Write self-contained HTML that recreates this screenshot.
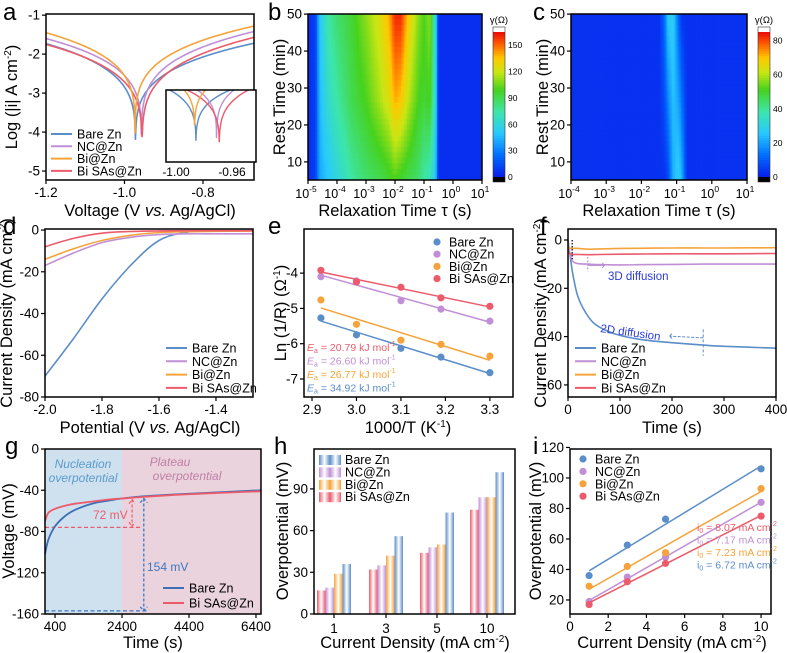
<!DOCTYPE html>
<html><head><meta charset="utf-8"><style>
html,body{margin:0;padding:0;background:#fff;}
svg{display:block;font-family:"Liberation Sans",Arial,sans-serif;}
</style></head><body>
<svg id="fig" width="787" height="653" viewBox="0 0 787 653" xmlns="http://www.w3.org/2000/svg"></svg>
<script>
// ===== Data =====
const seriesNames=["Bare Zn","NC@Zn","Bi@Zn","Bi SAs@Zn"];
const seriesColors=["#5b8ec9","#c08fd6","#f5a33a","#ec5b6b"];
// (a) Tafel: corrosion potential, log i at -1.2 V and -0.67 V
const aEcorr=[-0.972,-0.957,-0.973,-0.955];
const aLeft=[-1.73,-1.60,-1.45,-1.75];
const aRight=[-1.72,-1.42,-1.28,-1.57];
const aMin=[-4.75,-4.6,-4.4,-4.85];
// (b)(c) DRT heatmaps
const bLogTau=[-5,-4.75,-4.6,-4.3,-4,-3.5,-3,-2.5,-2.2,-2,-1.8,-1.5,-1.2,-1,-0.8,-0.6,-0.5,0,1];
const bRest=[5,27,50];
const bGamma=[[5,10,40,50,60,75,85,90,95,100,95,90,85,75,70,50,5,5,5],
[5,10,45,65,75,90,100,115,125,140,135,115,100,95,100,60,5,5,5],
[5,10,50,75,85,95,110,125,140,160,160,130,110,100,110,60,5,5,5]];
const cLogTau=[-4,-1.5,-1.35,-1.25,-1.1,-0.95,-0.85,-0.7,1];
const cRest=[5,50];
const cGammaBottom=[3,3,3,6,22,28,22,3,3];
const cGammaTop=[3,3,12,26,28,12,3,3,3];
// (d) LSV
const dV=[-2.0,-1.9,-1.8,-1.7,-1.6,-1.5,-1.4,-1.27];
const dI=[[-70,-52,-33,-17,-5,-1,-0.5,-0.3],[-17,-11,-6,-3.5,-2.2,-1.8,-1.8,-1.8],[-14,-9,-5,-2.5,-1.2,-0.8,-0.6,-0.5],[-8,-4,-1.5,-0.7,-0.4,-0.3,-0.3,-0.3]];
// (e) Arrhenius
const eX=[2.92,3.0,3.1,3.19,3.3];
const eY=[[-5.27,-5.75,-6.13,-6.38,-6.82],[-4.1,-4.22,-4.78,-5.02,-5.36],[-4.76,-5.45,-5.9,-6.02,-6.35],[-3.92,-4.25,-4.4,-4.7,-4.94]];
const eEa=["34.92","26.60","26.77","20.79"];
// (f) CA
const fT=[0,5,10,20,40,60,100,150,200,260,300,400];
const fI=[[0,-8,-15,-24,-32,-36,-39.5,-41.5,-42.5,-43.5,-44,-44.8],[0,-7,-9,-9.8,-10,-10.2,-10.3,-10.2,-10.1,-10,-10,-10],[-3,-3.5,-3.5,-3.5,-3.8,-3.7,-3.5,-3.4,-3.3,-3.3,-3.3,-3.2],[-5,-5.8,-6,-6,-6.1,-6,-5.9,-5.8,-5.7,-5.7,-5.7,-5.6]];
// (g) nucleation
const gT=[100,200,400,700,1000,1500,2000,2400,3000,4000,5000,6550];
const gBare=[-102,-88,-75,-65,-59,-53,-50,-48,-46,-44,-42.5,-40];
const gSAs=[-70,-62,-58,-55,-53,-51,-49,-48,-46.5,-44.5,-43,-41];
// (h) bars
const hCats=["1","3","5","10"];
const hVals=[[36,56,73,102],[19,35,48,84],[29,42,50,84],[17,32,44,75]];
// (i)
const iX=[1,3,5,10];
const iY=[[36,56,73,106],[19,35,48,84],[29,42,51,93],[17,32,44,75]];
const iI0=["6.72","7.17","7.23","8.07"];

// ===== Helpers =====
const NS="http://www.w3.org/2000/svg";
const fig=document.getElementById('fig');
const TF=16.5, TK=13.5;
function mk(tag,attrs,parent,text){const e=document.createElementNS(NS,tag);for(const k in attrs)e.setAttribute(k,attrs[k]);if(text!==undefined)e.textContent=text;(parent||fig).appendChild(e);return e;}
function axes(x0,x1,y0,y1,xmin,xmax,ymin,ymax){
 return {x0,x1,y0,y1,
  X:v=>x0+(v-xmin)/(xmax-xmin)*(x1-x0),
  Y:v=>y1-(v-ymin)/(ymax-ymin)*(y1-y0)};
}
function smooth(pts){let d="M"+pts[0][0].toFixed(1)+","+pts[0][1].toFixed(1);
 for(let i=0;i<pts.length-1;i++){const p0=pts[Math.max(0,i-1)],p1=pts[i],p2=pts[i+1],p3=pts[Math.min(pts.length-1,i+2)];
  const c1=[p1[0]+(p2[0]-p0[0])/6,p1[1]+(p2[1]-p0[1])/6],c2=[p2[0]-(p3[0]-p1[0])/6,p2[1]-(p3[1]-p1[1])/6];
  d+=`C${c1[0].toFixed(1)},${c1[1].toFixed(1)} ${c2[0].toFixed(1)},${c2[1].toFixed(1)} ${p2[0].toFixed(1)},${p2[1].toFixed(1)}`;}
 return d;}
function frame(A,name){const r=mk('rect',{x:A.x0,y:A.y0,width:A.x1-A.x0,height:A.y1-A.y0,fill:'none',stroke:'#000','stroke-width':1.5});
 }
function xticks(A,vals,labels,name){const g=mk('g',{});
 vals.forEach((v,i)=>{const x=A.X(v);mk('line',{x1:x,x2:x,y1:A.y1,y2:A.y1+4,stroke:'#000','stroke-width':1.2},g);
  mk('text',{x:x,y:A.y1+17,'font-size':TK,'text-anchor':'middle'},g,labels[i]);});}
function yticks(A,vals,labels,name){const g=mk('g',{});
 vals.forEach((v,i)=>{const y=A.Y(v);mk('line',{x1:A.x0-4,x2:A.x0,y1:y,y2:y,stroke:'#000','stroke-width':1.2},g);
  mk('text',{x:A.x0-6,y:y+4.5,'font-size':TK,'text-anchor':'end'},g,labels[i]);});}
function title(x,y,txt,rot,name){const t=mk('text',{x:x,y:y,'font-size':TF,'text-anchor':'middle',transform:rot?`rotate(-90 ${x} ${y})`:''});t.innerHTML=txt;
 return t;}
function letter(x,y,c){const t=mk('text',{x:x,y:y,'font-size':24},fig,c);}
function jet(t){t=Math.max(0,Math.min(1,t));const s=[[0,[10,30,235]],[0.15,[0,110,255]],[0.3,[40,200,255]],[0.45,[60,230,170]],[0.6,[70,210,30]],[0.72,[200,230,20]],[0.82,[255,200,0]],[0.92,[255,90,0]],[1,[235,10,10]]];
 for(let i=0;i<s.length-1;i++){if(t<=s[i+1][0]){const f=(t-s[i][0])/(s[i+1][0]-s[i][0]);const c=s[i][1].map((a,k)=>Math.round(a+(s[i+1][1][k]-a)*f));return `rgb(${c})`;}}return 'rgb(235,10,10)';}
function lerpArr(xs,ys,x){if(x<=xs[0])return ys[0];for(let i=0;i<xs.length-1;i++){if(x<=xs[i+1]){const f=(x-xs[i])/(xs[i+1]-xs[i]);return ys[i]+(ys[i+1]-ys[i])*f;}}return ys[ys.length-1];}
function legendLine(x,y,color,label,name){const g=mk('g',{});
 mk('line',{x1:x,x2:x+21,y1:y,y2:y,stroke:color,'stroke-width':2},g);mk('text',{x:x+26,y:y+4.5,'font-size':12.5},g,label);}
function legendDot(x,y,color,label,name){const g=mk('g',{});
 mk('circle',{cx:x,cy:y,r:3.6,fill:color},g);mk('text',{x:x+12,y:y+4.5,'font-size':12.5},g,label);}
const defs=mk('defs',{});

// ===== Panel a =====
const A=axes(46,254,14,180,-1.2,-0.67,-5.23,-0.97);
function tafel(k,V){const E=aEcorr[k];const dv=V-E;
 if(dv<0){const f=Math.min(1,-dv/(E+1.2));return aMin[k]+(aLeft[k]-aMin[k])*Math.pow(f,0.22);}
 const f=Math.min(1,dv/(-0.67-E));return aMin[k]+(aRight[k]-aMin[k])*Math.pow(f,0.22);}
function tafelPath(Ax,k,vmin,vmax,n){const pts=[];for(let i=0;i<=n;i++){const v=vmin+(vmax-vmin)*i/n;pts.push([Ax.X(v),Ax.Y(tafel(k,v))]);}
 return "M"+pts.map(p=>p[0].toFixed(1)+","+p[1].toFixed(1)).join("L");}
[0,1,3,2].forEach(k=>{const p=mk('path',{d:tafelPath(A,k,-1.2,-0.67,600),fill:'none',stroke:seriesColors[k],'stroke-width':1.6});
 });
frame(A,'tafel');
xticks(A,[-1.2,-1.0,-0.8],["-1.2","-1.0","-0.8"],'tafel');
yticks(A,[-1,-2,-3,-4,-5],["-1","-2","-3","-4","-5"],'tafel');
// inset
const AI=axes(166,256,90,162,-0.9938,-0.9283,-4.9,-3.0);
mk('rect',{x:166,y:90,width:90,height:72,fill:'#fff'});
mk('clipPath',{id:'cpI'},defs);mk('rect',{x:166,y:90,width:90,height:72},document.getElementById('cpI'));
const ig=mk('g',{'clip-path':'url(#cpI)'});
[0,1,3,2].forEach(k=>{mk('path',{d:tafelPath(AI,k,-0.9938,-0.9283,600),fill:'none',stroke:seriesColors[k],'stroke-width':1.4},ig);});
frame(AI,'tafel-inset');
mk('text',{x:176,y:176,'font-size':12,'text-anchor':'middle'},fig,"-1.00");
mk('text',{x:232,y:176,'font-size':12,'text-anchor':'middle'},fig,"-0.96");
seriesNames.forEach((n,k)=>legendLine(51,134+12.3*k,seriesColors[k],n,'tafel-legend-'+k));
title(150,216,'Voltage (V <tspan font-style="italic">vs.</tspan> Ag/AgCl)',false,'tafel-x-title');
title(17,97,'Log (|i| A cm<tspan font-size="10" dy="-6">-2</tspan><tspan dy="6">)</tspan>',true,'tafel-y-title');
letter(3,20,'a');

// ===== Heatmap helper =====
function heat(Ax,xmin,xmax,ymin,ymax,gammaFn,vmax,name){const g=mk('g',{});
 const cols=Math.round((Ax.x1-Ax.x0)/1.5),rows=30;const cw=(Ax.x1-Ax.x0)/cols,rh=(Ax.y1-Ax.y0)/rows;
 for(let r=0;r<rows;r++){const rest=ymax-(r+0.5)/rows*(ymax-ymin);
  for(let c=0;c<cols;c++){const lt=xmin+(c+0.5)/cols*(xmax-xmin);
   mk('rect',{x:(Ax.x0+c*cw).toFixed(2),y:(Ax.y0+r*rh).toFixed(2),width:(cw+0.4).toFixed(2),height:(rh+0.4).toFixed(2),fill:jet(gammaFn(lt,rest)/vmax)},g);}}}
function colorbar(x,y0,y1,vmax,ticks,name){const g=mk('g',{});
 const n=60,h=(y1-y0-10)/n;mk('rect',{x:x,y:y0,width:12,height:5,fill:'#fff'},g);
 for(let i=0;i<n;i++)mk('rect',{x:x,y:y0+5+i*h,width:12,height:h+0.5,fill:jet(1-(i+0.5)/n)},g);
 mk('rect',{x:x,y:y1-5,width:12,height:5,fill:'#000'},g);
 mk('rect',{x:x,y:y0,width:12,height:y1-y0,fill:'none',stroke:'#333','stroke-width':0.6},g);
 ticks.forEach(t=>{const yy=y1-5-(t-0)/(vmax)*(y1-y0-10);mk('text',{x:x+15,y:yy+3,'font-size':8.5},g,String(t));});
 mk('text',{x:x+6,y:y0-4,'font-size':9.5,'text-anchor':'middle'},g,'γ(Ω)');}
function logLabels(g,Ax,exps){exps.forEach(e=>{const x=Ax.X(e);mk('line',{x1:x,x2:x,y1:Ax.y1,y2:Ax.y1+4,stroke:'#000','stroke-width':1.2},g);
 const t=mk('text',{x:x-2,y:Ax.y1+18,'font-size':12.5,'text-anchor':'middle'},g);t.innerHTML=`10<tspan font-size="8.5" dy="-6">${e}</tspan>`;});}

// ===== Panel b =====
const B=axes(308,482,14,180,-5,1,5.1,50.03);
heat(B,-5,1,5.1,50.03,(lt,rest)=>{const r0=lerpArr(bLogTau,bGamma[0],lt),r1=lerpArr(bLogTau,bGamma[1],lt),r2=lerpArr(bLogTau,bGamma[2],lt);
 return rest<bRest[1]?r0+(r1-r0)*(rest-bRest[0])/(bRest[1]-bRest[0]):r1+(r2-r1)*(rest-bRest[1])/(bRest[2]-bRest[1]);},165,'drt-heatmap-bare');
frame(B,'drt-b');
{const g=mk('g',{});logLabels(g,B,[-5,-4,-3,-2,-1,0,1]);}
yticks(B,[10,20,30,40,50],["10","20","30","40","50"],'drt-b');
colorbar(493,27,182,165,[0,30,60,90,120,150],'drt-b-colorbar');
title(395,216,'Relaxation Time τ (s)',false,'drt-b-x-title');
title(285,97,'Rest Time (min)',true,'drt-b-y-title');
letter(268,20,'b');

// ===== Panel c =====
const C=axes(571,747,14,180,-4,1,5.1,50.03);
heat(C,-4,1,5.1,50.03,(lt,rest)=>{const f=(rest-cRest[0])/(cRest[1]-cRest[0]);return lerpArr(cLogTau,cGammaBottom,lt)*(1-f)+lerpArr(cLogTau,cGammaTop,lt)*f;},85,'drt-heatmap-bi-sas');
frame(C,'drt-c');
{const g=mk('g',{});logLabels(g,C,[-4,-3,-2,-1,0,1]);}
yticks(C,[10,20,30,40,50],["10","20","30","40","50"],'drt-c');
colorbar(758,27,182,85,[0,20,40,60,80],'drt-c-colorbar');
title(659,216,'Relaxation Time τ (s)',false,'drt-c-x-title');
title(548,97,'Rest Time (min)',true,'drt-c-y-title');
letter(533,20,'c');

// ===== Panel d =====
const D=axes(45,253,229,397,-2.0,-1.27,-80,0.5);
[0,1,2,3].forEach(k=>{const p=mk('path',{d:smooth(dV.map((v,i)=>[D.X(v),D.Y(dI[k][i])])),fill:'none',stroke:seriesColors[k],'stroke-width':1.6});
 });
frame(D,'lsv');
xticks(D,[-2.0,-1.8,-1.6,-1.4],["-2.0","-1.8","-1.6","-1.4"],'lsv');
yticks(D,[0,-20,-40,-60,-80],["0","-20","-40","-60","-80"],'lsv');
seriesNames.forEach((n,k)=>legendLine(166,348+13.3*k,seriesColors[k],n,'lsv-legend-'+k));
title(150,433,'Potential (V <tspan font-style="italic">vs.</tspan> Ag/AgCl)',false,'lsv-x-title');
title(12,313,'Current Density (mA cm<tspan font-size="10" dy="-6">-2</tspan><tspan dy="6">)</tspan>',true,'lsv-y-title');
letter(3,234,'d');

// ===== Panel e =====
const E=axes(304,513,229,397,2.882,3.352,-7.51,-2.75);
[0,1,2,3].forEach(k=>{const xs=eX,ys=eY[k],n=xs.length;const mx=xs.reduce((a,b)=>a+b)/n,my=ys.reduce((a,b)=>a+b)/n;
 let sxy=0,sxx=0;xs.forEach((x,i)=>{sxy+=(x-mx)*(ys[i]-my);sxx+=(x-mx)*(x-mx);});const m=sxy/sxx,b=my-m*mx;
 const l=mk('line',{x1:E.X(xs[0]),y1:E.Y(m*xs[0]+b),x2:E.X(xs[n-1]),y2:E.Y(m*xs[n-1]+b),stroke:seriesColors[k],'stroke-width':1.5});
 
 xs.forEach((x,i)=>{const c=mk('circle',{cx:E.X(x),cy:E.Y(ys[i]),r:3.6,fill:seriesColors[k]});});});
frame(E,'arrhenius');
xticks(E,[2.9,3.0,3.1,3.2,3.3],["2.9","3.0","3.1","3.2","3.3"],'arrhenius');
yticks(E,[-4,-5,-6,-7],["-4","-5","-6","-7"],'arrhenius');
seriesNames.forEach((n,k)=>legendDot(437,242+12.2*k,seriesColors[k],n,'arrhenius-legend-'+k));
[3,1,2,0].forEach((k,j)=>{const t=mk('text',{x:307,y:351+13.5*j,'font-size':10.5,fill:seriesColors[k]});
 t.innerHTML=`<tspan font-style="italic">E</tspan><tspan font-size="7" dy="2">a</tspan><tspan dy="-2"> = ${eEa[k]} kJ mol</tspan><tspan font-size="7" dy="-5">-1</tspan>`;
 });
title(408,433,'1000/T (K<tspan font-size="10" dy="-6">-1</tspan><tspan dy="6">)</tspan>',false,'arrhenius-x-title');
title(286,313,'Ln (1/R) (Ω<tspan font-size="10" dy="-6">-1</tspan><tspan dy="6">)</tspan>',true,'arrhenius-y-title');
letter(268,234,'e');

// ===== Panel f =====
const F=axes(568,776,229,397,0,400,-65,4.55);
[0,1,2,3].forEach(k=>{const p=mk('path',{d:smooth(fT.map((t,i)=>[F.X(t),F.Y(fI[k][i])])),fill:'none',stroke:seriesColors[k],'stroke-width':1.6});
 });
mk('line',{x1:F.X(8),x2:F.X(8),y1:F.Y(0),y2:F.Y(-8),stroke:'#000','stroke-width':1.2,'stroke-dasharray':'1.5,1.5'});
mk('line',{x1:F.X(38),x2:F.X(38),y1:F.Y(-7),y2:F.Y(-13),stroke:'#b58ad0','stroke-width':1,'stroke-dasharray':'2,1.5'});
mk('path',{d:`M${F.X(38)},${F.Y(-10.5)}H${F.X(70)}M${F.X(66)},${F.Y(-9.5)}L${F.X(70)},${F.Y(-10.5)}L${F.X(66)},${F.Y(-11.5)}`,stroke:'#b58ad0','stroke-width':1,fill:'none'});
{const t=mk('text',{x:608,y:280,'font-size':11.5,fill:'#2b3bd6'},fig,'3D diffusion');}
mk('line',{x1:F.X(260),x2:F.X(260),y1:F.Y(-37),y2:F.Y(-48),stroke:'#5b8ec9','stroke-width':1,'stroke-dasharray':'3,2'});
mk('path',{d:`M${F.X(260)},${F.Y(-40.5)}L${F.X(195)},${F.Y(-39.8)}M${F.X(200)},${F.Y(-38.8)}L${F.X(195)},${F.Y(-39.8)}L${F.X(200)},${F.Y(-40.8)}`,stroke:'#5b8ec9','stroke-width':1,fill:'none','stroke-dasharray':'3,1.5'});
{const t=mk('text',{x:600,y:332,'font-size':11.5,fill:'#2b3bd6',transform:'rotate(8 600 332)'},fig,'2D diffusion');}
frame(F,'ca');
xticks(F,[0,100,200,300,400],["0","100","200","300","400"],'ca');
yticks(F,[0,-20,-40,-60],["0","-20","-40","-60"],'ca');
seriesNames.forEach((n,k)=>legendLine(575,348+13.3*k,seriesColors[k],n,'ca-legend-'+k));
title(672,433,'Time (s)',false,'ca-x-title');
title(546,313,'Current Density (mA cm<tspan font-size="10" dy="-6">-2</tspan><tspan dy="6">)</tspan>',true,'ca-y-title');
letter(540,234,'f');

// ===== Panel g =====
const G=axes(45,261,449,614,100,6550,-160,0);
mk('rect',{x:G.x0,y:G.y0,width:G.X(2400)-G.x0,height:G.y1-G.y0,fill:'#cfe1ef'});
mk('rect',{x:G.X(2400),y:G.y0,width:G.x1-G.X(2400),height:G.y1-G.y0,fill:'#ead3dc'});
{const t=mk('text',{x:83,y:468,'font-size':12,'font-style':'italic',fill:'#5a9ccc','text-anchor':'middle'});t.innerHTML='<tspan x="83">Nucleation</tspan><tspan x="83" dy="14">overpotential</tspan>';}
{const t=mk('text',{x:187,y:466,'font-size':12,'font-style':'italic',fill:'#c080a8','text-anchor':'middle'});t.innerHTML='<tspan x="170">Plateau</tspan><tspan x="187" dy="14">overpotential</tspan>';}
mk('line',{x1:G.x0,x2:G.X(2950),y1:G.Y(-76),y2:G.Y(-76),stroke:'#ec5b6b','stroke-width':1.3,'stroke-dasharray':'4,2.5'});
mk('line',{x1:G.x0,x2:G.X(3150),y1:G.Y(-157),y2:G.Y(-157),stroke:'#3c78c4','stroke-width':1.3,'stroke-dasharray':'4,2.5'});
mk('path',{d:`M${G.X(2700)},${G.Y(-49)}V${G.Y(-75)}M${G.X(2700)-3},${G.Y(-53)}L${G.X(2700)},${G.Y(-49)}L${G.X(2700)+3},${G.Y(-53)}M${G.X(2700)-3},${G.Y(-71)}L${G.X(2700)},${G.Y(-75)}L${G.X(2700)+3},${G.Y(-71)}`,stroke:'#ec5b6b','stroke-width':1.2,fill:'none','stroke-dasharray':'3,2'});
mk('path',{d:`M${G.X(3050)},${G.Y(-48)}V${G.Y(-157)}M${G.X(3050)-3.5},${G.Y(-52)}L${G.X(3050)},${G.Y(-48)}L${G.X(3050)+3.5},${G.Y(-52)}M${G.X(3050)-3.5},${G.Y(-153)}L${G.X(3050)},${G.Y(-157)}L${G.X(3050)+3.5},${G.Y(-153)}`,stroke:'#3c78c4','stroke-width':1.3,fill:'none','stroke-dasharray':'3,2'});
{const t=mk('text',{x:93,y:519,'font-size':12,fill:'#ec5b6b'},fig,'72 mV');}
{const t=mk('text',{x:147,y:571,'font-size':12,fill:'#3c78c4'},fig,'154 mV');}
[[gBare,'#3c6fb4','voltage-bare-zn'],[gSAs,'#ec5b6b','voltage-bi-sas']].forEach(([ys,c,n])=>{const p=mk('path',{d:smooth(gT.map((t,i)=>[G.X(t),G.Y(ys[i])])),fill:'none',stroke:c,'stroke-width':1.8});});
frame(G,'voltage');
xticks(G,[400,2400,4400,6400],["400","2400","4400","6400"],'voltage');
yticks(G,[0,-40,-80,-120,-160],["0","-40","-80","-120","-160"],'voltage');
legendLine(163,588,'#3c6fb4','Bare Zn','voltage-legend-0');
legendLine(163,603,'#ec5b6b','Bi SAs@Zn','voltage-legend-1');
title(153,648,'Time (s)',false,'voltage-x-title');
title(14,531,'Voltage (mV)',true,'voltage-y-title');
letter(5,454,'g');

// ===== Panel h =====
const H=axes(314,515,449,614,0,1,0,118.7);
const hGroupX=[334,386,437,487];const bw=8.5;const order=[3,1,2,0];
const grads=seriesColors.map((c,k)=>{const lg=mk('linearGradient',{id:'hg'+k,x1:0,x2:1,y1:0,y2:0},defs);
 mk('stop',{offset:'0',style:`stop-color:${c}`},lg);mk('stop',{offset:'0.5',style:'stop-color:#fff'},lg);mk('stop',{offset:'1',style:`stop-color:${c}`},lg);return 'url(#hg'+k+')';});
hCats.forEach((cat,ci)=>{order.forEach((k,j)=>{const v=hVals[k][ci];const x=hGroupX[ci]-2*bw+j*bw;
 const r=mk('rect',{x:x,y:H.Y(v),width:bw,height:H.y1-H.Y(v),fill:grads[k]});});});
frame(H,'overpotential-bars');
{const g=mk('g',{});
 hCats.forEach((c,i)=>{mk('line',{x1:hGroupX[i],x2:hGroupX[i],y1:H.y1,y2:H.y1+4,stroke:'#000','stroke-width':1.2},g);mk('text',{x:hGroupX[i],y:H.y1+19,'font-size':TK,'text-anchor':'middle'},g,c);});}
yticks(H,[0,30,60,90],["0","30","60","90"],'bars');
seriesNames.forEach((n,k)=>{const g=mk('g',{});
 mk('rect',{x:319,y:455+12.4*k,width:11,height:10,fill:grads[k]},g);mk('rect',{x:330,y:455+12.4*k,width:11,height:10,fill:grads[k]},g);
 mk('text',{x:345,y:464+12.4*k,'font-size':12.5},g,n);});
title(415,648,'Current Density (mA cm<tspan font-size="10" dy="-6">-2</tspan><tspan dy="6">)</tspan>',false,'bars-x-title');
title(288,531,'Overpotential (mV)',true,'bars-y-title');
letter(274,454,'h');

// ===== Panel i =====
const I=axes(570,771,449,614,0,10.52,10.8,119);
[0,1,2,3].forEach(k=>{const xs=iX,ys=iY[k],n=xs.length;const mx=xs.reduce((a,b)=>a+b)/n,my=ys.reduce((a,b)=>a+b)/n;
 let sxy=0,sxx=0;xs.forEach((x,i)=>{sxy+=(x-mx)*(ys[i]-my);sxx+=(x-mx)*(x-mx);});const m=sxy/sxx,b=my-m*mx;
 const l=mk('line',{x1:I.X(1),y1:I.Y(m+b),x2:I.X(10),y2:I.Y(m*10+b),stroke:seriesColors[k],'stroke-width':1.5});
 xs.forEach((x,i)=>{const c=mk('circle',{cx:I.X(x),cy:I.Y(ys[i]),r:3.6,fill:seriesColors[k]});});});
frame(I,'exchange');
xticks(I,[0,2,4,6,8,10],["0","2","4","6","8","10"],'exchange');
yticks(I,[20,40,60,80,100,120],["20","40","60","80","100","120"],'exchange');
seriesNames.forEach((n,k)=>legendDot(583,459+12.4*k,seriesColors[k],n,'exchange-legend-'+k));
[3,1,2,0].forEach((k,j)=>{const t=mk('text',{x:697,y:531+12.5*j,'font-size':10.5,fill:seriesColors[k]});
 t.innerHTML=`i<tspan font-size="7" dy="2">0</tspan><tspan dy="-2"> = ${iI0[k]} mA cm</tspan><tspan font-size="7" dy="-5">-2</tspan>`;
 });
title(672,648,'Current Density (mA cm<tspan font-size="10" dy="-6">-2</tspan><tspan dy="6">)</tspan>',false,'exchange-x-title');
title(541,531,'Overpotential (mV)',true,'exchange-y-title');
letter(533,454,'i');
</script>
</body></html>
